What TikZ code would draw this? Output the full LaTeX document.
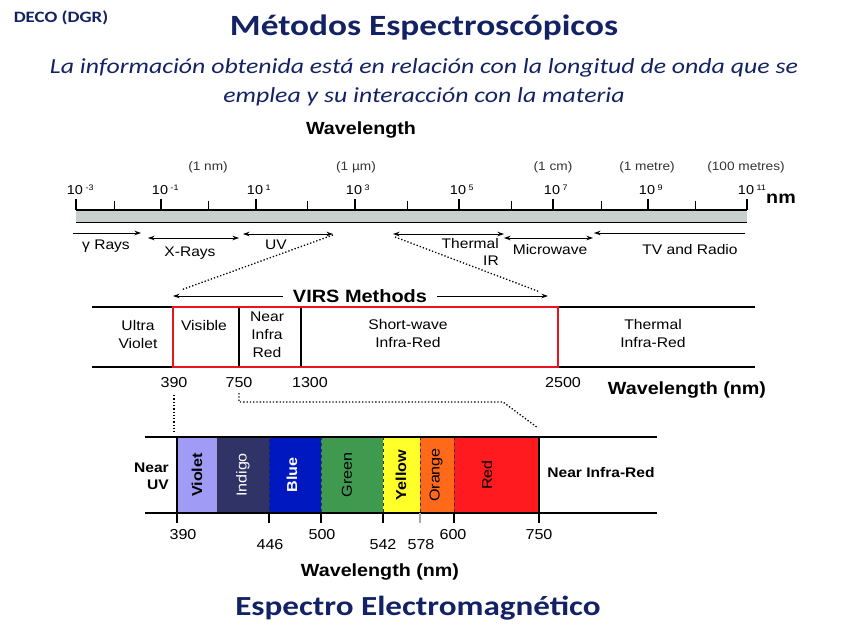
\documentclass[tikz,border=0pt]{standalone}
\usepackage{fontspec}
\setmainfont{Liberation Sans}[FakeStretch=1.12]
\newfontfamily\calib{Carlito}[FakeStretch=1.2]
\usetikzlibrary{arrows.meta}
\definecolor{navy}{RGB}{18,34,100}
\definecolor{rulegrey}{RGB}{200,208,206}
\definecolor{cviolet}{RGB}{160,156,245}
\definecolor{cindigo}{RGB}{48,51,102}
\definecolor{cblue}{RGB}{0,24,192}
\definecolor{cgreen}{RGB}{63,154,80}
\definecolor{cyellow}{RGB}{255,255,42}
\definecolor{corange}{RGB}{255,106,26}
\definecolor{cred}{RGB}{255,26,31}
\definecolor{vred}{RGB}{235,20,30}
\tikzset{
  titlefont/.style={font=\calib\bfseries\fontsize{29.4}{34}\selectfont, text=navy, inner sep=0pt},
  subfont/.style={font=\calib\itshape\fontsize{21.5}{26}\selectfont, text=navy, inner sep=0pt},
  lab/.style={font=\fontsize{12.2}{14}\selectfont, text=black!80, inner sep=0pt},
  ticklab/.style={font=\fontsize{12.9}{15}\selectfont, inner sep=0pt, anchor=base},
  band/.style={font=\fontsize{14}{18}\selectfont, align=center, inner sep=0pt},
  big/.style={font=\bfseries\fontsize{17.6}{20}\selectfont, inner sep=0pt},
  rng/.style={font=\fontsize{13.9}{17}\selectfont, inner sep=0pt, align=right},
  arr/.style={line width=0.9pt, -{Stealth[length=6.5pt,width=4.5pt]}},
  darr/.style={line width=0.9pt, {Stealth[length=6.5pt,width=4.5pt]}-{Stealth[length=6.5pt,width=4.5pt]}},
  dots/.style={line width=1.3pt, dotted},
  col/.style={font=\fontsize{14.4}{16}\selectfont, rotate=90, inner sep=0pt},
  colb/.style={col, font=\bfseries\fontsize{14.4}{16}\selectfont},
  num/.style={font=\fontsize{14.4}{16}\selectfont, inner sep=0pt},
}
\newcommand{\tenp}[1]{10\rlap{\hspace{2.5pt}\raisebox{0.6ex}{\fontsize{8}{9}\selectfont #1}}}
\begin{document}
\begin{tikzpicture}[x=1pt,y=-1pt]
\useasboundingbox (0,0) rectangle (848,636);
% titles
\node[font=\calib\bfseries\fontsize{15.8}{18}\selectfont, text=navy, inner sep=0pt] (deco) at (61,18) {DECO (DGR)};
\node[titlefont] (title) at (424,28) {Métodos Espectroscópicos};
\node[subfont] (sub1) at (424,68) {La información obtenida está en relación con la longitud de onda que se};
\node[subfont] (sub2) at (424,97) {emplea y su interacción con la materia};
\node[titlefont, font=\calib\bfseries\fontsize{27.6}{33}\selectfont] (foot) at (418,608) {Espectro Electromagnético};

% top ruler
\node[big] (wl) at (361,130) {Wavelength};
\fill[rulegrey] (76,210) rectangle (747,222.5);
\draw[line width=1.2pt] (76,210) -- (747,210);
\draw[line width=1.2pt] (76,222.5) -- (747,222.5);
\foreach \x in {76,161,256,355,459,553,648,747} \draw[line width=1.2pt] (\x,199) -- (\x,210);
\foreach \x in {114,208,307,407,511,601,695} \draw[line width=1pt] (\x,201) -- (\x,210);
\node[ticklab] (e1) at (75,195) {\tenp{-3}};
\node[ticklab] (e2) at (160,195) {\tenp{-1}};
\node[ticklab] (e3) at (255,195) {\tenp{1}};
\node[ticklab] (e4) at (354,195) {\tenp{3}};
\node[ticklab] (e5) at (458,195) {\tenp{5}};
\node[ticklab] (e6) at (552,195) {\tenp{7}};
\node[ticklab] (e7) at (647,195) {\tenp{9}};
\node[ticklab] (e8) at (746,195) {\tenp{11}};
\node[lab] (u1) at (208,167) {(1 nm)};
\node[lab] (u2) at (356,167) {(1 µm)};
\node[lab] (u3) at (553,167) {(1 cm)};
\node[lab] (u4) at (647,167) {(1 metre)};
\node[lab] (u5) at (746,167) {(100 metres)};
\node[big] (nm) at (781,199) {nm};

% ranges
\coordinate (g1) at (73,233); \coordinate (g2) at (141,233);
\coordinate (x1) at (148,238); \coordinate (x2) at (239,238);
\coordinate (v1) at (243,234); \coordinate (v2) at (333,234);
\coordinate (t1) at (393,234); \coordinate (t2) at (504,234);
\coordinate (m1) at (504,238); \coordinate (m2) at (593,238);
\coordinate (r1) at (594,233); \coordinate (r2) at (745,233);
\draw[arr] (g1) -- (g2);
\draw[darr] (x1) -- (x2);
\draw[darr] (v1) -- (v2);
\draw[darr] (t1) -- (t2);
\draw[darr] (m1) -- (m2);
\draw[arr] (r2) -- (r1);
\node[rng] (lg) at (106,246) {γ Rays};
\node[rng] (lx) at (190,253) {X-Rays};
\node[rng] (lu) at (276,245) {UV};
\node[rng, anchor=north east] (lt) at (499,238) {Thermal\\IR};
\node[rng] (lm) at (550,250) {Microwave};
\node[rng] (lr) at (690,250) {TV and Radio};

% VIRS
\node[big, font=\bfseries\fontsize{17.8}{20}\selectfont] (virs) at (360,296) {VIRS Methods};
\coordinate (va) at (173,296); \coordinate (vb) at (548,296);
\draw[arr] (virs.west) ++(-10,0) -- (va);
\draw[arr] (virs.east) ++(10,0) -- (vb);
\coordinate (d1) at (181,290); \coordinate (d2) at (540,292);
\draw[dots] (v2) ++(0,1) -- (d1);
\draw[dots] (t1) ++(2,3) -- (d2);

% middle band
\draw[line width=2pt] (92,307) -- (755,307);
\draw[line width=2pt] (92,367) -- (755,367);
\draw[line width=2pt] (239,307) -- (239,367);
\draw[line width=1.6pt] (301,307) -- (301,367);
\draw[line width=1.8pt, vred] (173,307) rectangle (558,367);
\node[band] (b1) at (138,334) {Ultra\\Violet};
\node[band] (b2) at (204,325) {Visible};
\node[band] (b3) at (267,335) {Near\\Infra\\Red};
\node[band] (b4) at (408,333) {Short-wave\\Infra-Red};
\node[band] (b5) at (653,333) {Thermal\\Infra-Red};
\node[num] (n390) at (174,383) {390};
\node[num] (n750) at (239,383) {750};
\node[num] (n1300) at (310,383) {1300};
\node[num] (n2500) at (563,383) {2500};
\node[big] (wl2) at (687,390) {Wavelength (nm)};

% dotted zoom lines
\coordinate (z1) at (174,395); \coordinate (z2) at (174,432);
\draw[dots] (z1) -- (z2);
\coordinate (z3) at (239,393); \coordinate (z4) at (239,402);
\coordinate (z5) at (503,402); \coordinate (z6) at (538,428);
\draw[dots] (z3) -- (z4) -- (z5) -- (z6);

% bottom band
\fill[cviolet] (177,437) rectangle (217,513);
\fill[cindigo] (217,437) rectangle (269,513);
\fill[cblue] (269,437) rectangle (321,513);
\fill[cgreen] (321,437) rectangle (383,513);
\fill[cyellow] (383,437) rectangle (420,513);
\fill[corange] (420,437) rectangle (454,513);
\fill[cred] (454,437) rectangle (539,513);
\foreach \x in {217,269,321,383,420,454} \draw[line width=0.9pt, dashed, black!80] (\x,437) -- (\x,513);
\draw[line width=1.6pt] (177,437) -- (177,513);
\draw[line width=1.6pt] (539,437) -- (539,513);
\draw[line width=2pt] (145,437) -- (657,437);
\draw[line width=2pt] (145,513) -- (657,513);
\foreach \x in {177,269,321,383,454,539} \draw[line width=1.2pt] (\x,513) -- (\x,523);
\draw[line width=1.2pt, black!35] (420,513) -- (420,523);
\node[colb] (cv) at (197,475) {Violet};
\node[col, text=white] (ci) at (243,475) {Indigo};
\node[colb, text=white] (cb) at (292,475) {Blue};
\node[col] (cg) at (347,475) {Green};
\node[colb] (cy) at (401,475) {Yellow};
\node[col] (co) at (436,475) {Orange};
\node[col] (cr) at (487,475) {Red};
\node[band, align=right, anchor=east, font=\bfseries\fontsize{13.9}{17}\selectfont] (nuv) at (169,476) {Near\\UV};
\node[band, font=\bfseries\fontsize{13.9}{16}\selectfont] (nir) at (601,473) {Near Infra-Red};
\node[num] (m390) at (183,535) {390};
\node[num] (m446) at (270,545) {446};
\node[num] (m500) at (322,535) {500};
\node[num] (m542) at (383,545) {542};
\node[num] (m578) at (421,545) {578};
\node[num] (m600) at (453,535) {600};
\node[num] (m750) at (539,535) {750};
\node[big] (wl3) at (380,572) {Wavelength (nm)};
\end{tikzpicture}
\end{document}
